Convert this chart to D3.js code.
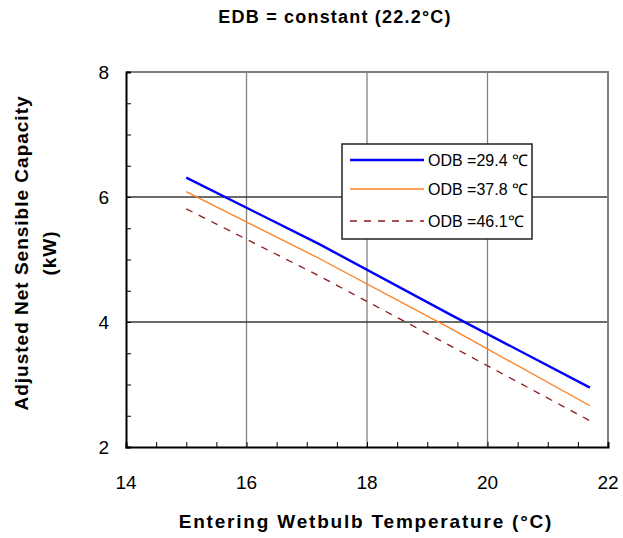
<!DOCTYPE html>
<html>
<head>
<meta charset="utf-8">
<script src="https://cdn.jsdelivr.net/npm/d3@7"></script>
<style>
  html, body { margin: 0; padding: 0; background: #fff; }
  svg { display: block; }
  text { font-family: "Liberation Sans", Arial, sans-serif; fill: #000; }
</style>
</head>
<body>
<svg id="chart" width="623" height="538"></svg>
<script>
// Entering wetbulb temperatures (°C)
const wetbulb = [15, 17.2, 19.4, 21.7];
// Adjusted net sensible capacity (kW) for each outdoor dry bulb
const odb294 = [6.31, 5.25, 4.11, 2.95];
const odb378 = [6.085, 5.02, 3.89, 2.66];
const odb461 = [5.81, 4.74, 3.61, 2.42];
const seriesNames = ["ODB =29.4 ℃", "ODB =37.8 ℃", "ODB =46.1℃"];
const xTicks = [14, 16, 18, 20, 22];
const yTicks = [2, 4, 6, 8];

const svg = d3.select("#chart");
const plotL = 126, plotR = 608, plotT = 72, plotB = 447;

const x = d3.scaleLinear().domain([14, 22]).range([plotL, plotR]);
const y = d3.scaleLinear().domain([2, 8]).range([plotB, plotT]);

// grid
svg.append("g").selectAll("line").data([16, 18, 20]).join("line")
  .attr("x1", d => x(d)).attr("x2", d => x(d))
  .attr("y1", plotT).attr("y2", plotB)
  .attr("stroke", "#808080").attr("stroke-width", 1.3);
svg.append("g").selectAll("line").data([4, 6]).join("line")
  .attr("x1", plotL).attr("x2", plotR)
  .attr("y1", d => y(d)).attr("y2", d => y(d))
  .attr("stroke", "#3a3a3a").attr("stroke-width", 1.3);

// frame: top and right in grey
svg.append("path")
  .attr("d", `M${plotL},${plotT}H${plotR}V${plotB}`)
  .attr("fill", "none").attr("stroke", "#808080").attr("stroke-width", 2);

// axes with inward ticks
const xAxis = svg.append("g").attr("transform", `translate(0,${plotB})`)
  .call(d3.axisTop(x).tickValues(d3.range(14, 22.01, 0.5)).tickSize(5).tickFormat(""));
const yAxis = svg.append("g").attr("transform", `translate(${plotL},0)`)
  .call(d3.axisRight(y).tickValues(d3.range(2, 8.01, 0.5)).tickSize(5).tickFormat(""));
[xAxis, yAxis].forEach(g => {
  g.select(".domain").attr("stroke", "#000").attr("stroke-width", 2);
  g.selectAll(".tick line").attr("stroke", "#000").attr("stroke-width", 1);
});

// tick labels
svg.append("g").selectAll("text").data(xTicks).join("text")
  .attr("x", d => x(d)).attr("y", 489)
  .attr("text-anchor", "middle").attr("font-size", 19).text(d => d);
svg.append("g").selectAll("text").data(yTicks).join("text")
  .attr("x", 109).attr("y", d => y(d) + 7)
  .attr("text-anchor", "end").attr("font-size", 19).text(d => d);

// series lines
const line = d3.line().x((d, i) => x(wetbulb[i])).y(d => y(d));
const styles = [
  { data: odb294, color: "#0000ff", width: 2.4, dash: null },
  { data: odb378, color: "#ff7f1e", width: 1.3, dash: null },
  { data: odb461, color: "#8b1a1a", width: 1.3, dash: "7,7" }
];
styles.forEach(s => {
  svg.append("path").datum(s.data)
    .attr("d", line).attr("fill", "none")
    .attr("stroke", s.color).attr("stroke-width", s.width)
    .attr("stroke-dasharray", s.dash);
});

// legend
const lg = svg.append("g");
lg.append("rect").attr("x", 342).attr("y", 144).attr("width", 190).attr("height", 95)
  .attr("fill", "#fff").attr("stroke", "#222").attr("stroke-width", 1.5);
const rowsY = [160, 189, 221];
styles.forEach((s, i) => {
  lg.append("line").attr("x1", 350).attr("x2", 424)
    .attr("y1", rowsY[i]).attr("y2", rowsY[i])
    .attr("stroke", s.color).attr("stroke-width", s.width)
    .attr("stroke-dasharray", s.dash);
  lg.append("text").attr("x", 428).attr("y", rowsY[i] + 6)
    .attr("font-size", 16).text(seriesNames[i]);
});

// titles
svg.append("text").attr("x", 335).attr("y", 23).attr("text-anchor", "middle")
  .attr("font-size", 18).attr("font-weight", "bold").attr("letter-spacing", 1.2)
  .text("EDB = constant (22.2°C)");
svg.append("text").attr("x", 366).attr("y", 528).attr("text-anchor", "middle")
  .attr("font-size", 19).attr("font-weight", "bold").attr("letter-spacing", 1.8)
  .text("Entering Wetbulb Temperature (°C)");
const yl = svg.append("text").attr("transform", "translate(0,253) rotate(-90)")
  .attr("text-anchor", "middle").attr("font-size", 19).attr("font-weight", "bold")
  .attr("letter-spacing", 1);
yl.append("tspan").attr("x", 0).attr("y", 28).text("Adjusted Net Sensible Capacity");
yl.append("tspan").attr("x", 0).attr("y", 56).text("(kW)");
</script>
</body>
</html>
